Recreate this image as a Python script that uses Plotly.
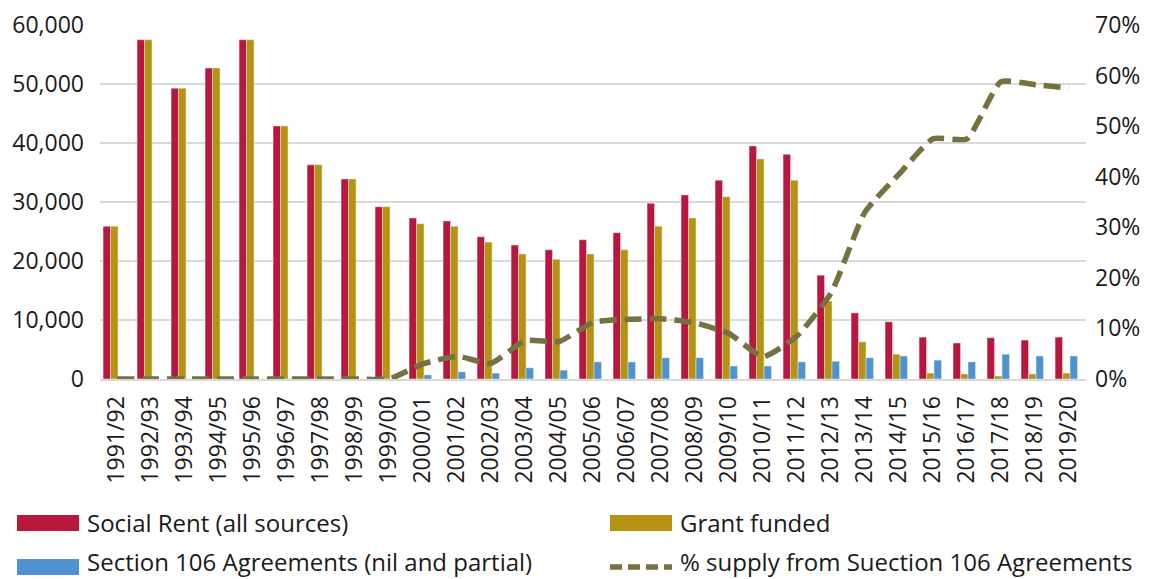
import plotly.graph_objects as go

# categories (financial years)
years = ['1991/92', '1992/93', '1993/94', '1994/95', '1995/96', '1996/97', '1997/98',
         '1998/99', '1999/00', '2000/01', '2001/02', '2002/03', '2003/04', '2004/05',
         '2005/06', '2006/07', '2007/08', '2008/09', '2009/10', '2010/11', '2011/12',
         '2012/13', '2013/14', '2014/15', '2015/16', '2016/17', '2017/18', '2018/19',
         '2019/20']

# series values
social_rent = [25900, 57500, 49300, 52700, 57500, 42900, 36300, 33900, 29200,
               27300, 26800, 24100, 22700, 21900, 23600, 24800, 29800, 31200,
               33700, 39500, 38100, 17600, 11200, 9700, 7100, 6100, 7000, 6600, 7100]
grant_funded = [25900, 57500, 49300, 52700, 57500, 42900, 36300, 33900, 29200,
                26300, 25900, 23200, 21200, 20300, 21200, 21900, 25900, 27300,
                30900, 37300, 33700, 13200, 6300, 4200, 1000, 850, 500, 850, 1000]
section_106 = [0, 0, 0, 0, 0, 0, 0, 0, 0,
               700, 1200, 1000, 1900, 1500, 2900, 2900, 3600, 3600,
               2200, 2200, 2900, 3000, 3600, 3900, 3200, 2900, 4200, 3900, 3900]
pct_s106 = [0, 0, 0, 0, 0, 0, 0, 0, 0,
            3.0, 4.5, 3.1, 7.6, 7.4, 11.2, 11.8, 11.9, 11.1,
            9.0, 4.4, 8.5, 17.0, 33.0, 40.5, 47.5, 47.5, 58.8, 58.2, 57.5]
pct_s106 = [p / 100 for p in pct_s106]

FONT = "Open Sans"
TXT = '#1a1a1a'
BAR_W = 0.22
RED, GOLD, BLUE, OLIVE = '#B8183E', '#B59210', '#5092CF', '#767140'
DASH = '17px,8px'

# the page body adds an 8px margin, so the figure is a bit smaller than the window
W, H = 1142, 571
L, R, T, B = 92, 64, 17, 200
PW, PH = W - L - R, H - T - B


def px(x):
    # figure pixel -> paper x
    return (x - L) / PW


def py(y):
    # figure pixel -> paper y
    return (H - B - y) / PH


fig = go.Figure()

fig.add_trace(go.Bar(x=years, y=social_rent, name='Social Rent (all sources)',
                     marker_color=RED, width=BAR_W, offset=-0.41))
fig.add_trace(go.Bar(x=years, y=grant_funded, name='Grant funded',
                     marker_color=GOLD, width=BAR_W, offset=-0.19))
fig.add_trace(go.Bar(x=years, y=section_106, name='Section 106 Agreements (nil and partial)',
                     marker_color=BLUE, width=BAR_W, offset=0.03))
fig.add_trace(go.Scatter(x=years, y=pct_s106, name='% supply from Suection 106 Agreements',
                         yaxis='y2', mode='lines',
                         line=dict(color=OLIVE, width=5.5, dash=DASH,
                                   shape='spline', smoothing=0.5)))

# legend drawn by hand: wide swatches in two columns
# (label, colour, swatch left, swatch centre y, text centre y)
legend_items = [
    ('Social Rent (all sources)', RED, 9, 515, 514),
    ('Grant funded', GOLD, 602, 515, 514),
    ('Section 106 Agreements (nil and partial)', BLUE, 9, 559, 553),
    ('% supply from Suection 106 Agreements', None, 602, 559, 553),
]
for label, colour, x0, yc, yt in legend_items:
    if colour:
        fig.add_shape(type='rect', xref='paper', yref='paper',
                      x0=px(x0), x1=px(x0 + 62), y0=py(yc + 8), y1=py(yc - 8),
                      fillcolor=colour, line_width=0)
    else:
        fig.add_shape(type='line', xref='paper', yref='paper',
                      x0=px(x0), x1=px(x0 + 62), y0=py(yc), y1=py(yc),
                      line=dict(color=OLIVE, width=5.5, dash='12px,6px'))
    fig.add_annotation(text=label, xref='paper', yref='paper', x=px(x0 + 68), y=py(yt),
                       xanchor='left', yanchor='middle', showarrow=False,
                       font=dict(family=FONT, size=24, color=TXT))

fig.update_layout(
    width=W, height=H,
    barmode='overlay',
    paper_bgcolor='white',
    plot_bgcolor='white',
    margin=dict(l=L, r=R, t=T, b=B),
    font=dict(family=FONT, size=23, color=TXT),
    showlegend=False,
    xaxis=dict(tickangle=-90, showgrid=False, showline=True, linecolor='#D9D9D9',
               linewidth=2, ticks='', ticklabelstandoff=6, automargin=False,
               tickfont=dict(size=23)),
    yaxis=dict(range=[0, 60000], dtick=10000, tickformat=',', gridcolor='#D9D9D9',
               gridwidth=1.5, zeroline=False, ticks='', ticklabelstandoff=15,
               automargin=False, tickfont=dict(size=23)),
    yaxis2=dict(range=[0, 0.7], dtick=0.1, tickformat='.0%', overlaying='y',
                side='right', showgrid=False, zeroline=False, ticks='',
                ticklabelstandoff=8, automargin=False, tickfont=dict(size=23)),
)

fig.write_html("out.html")
